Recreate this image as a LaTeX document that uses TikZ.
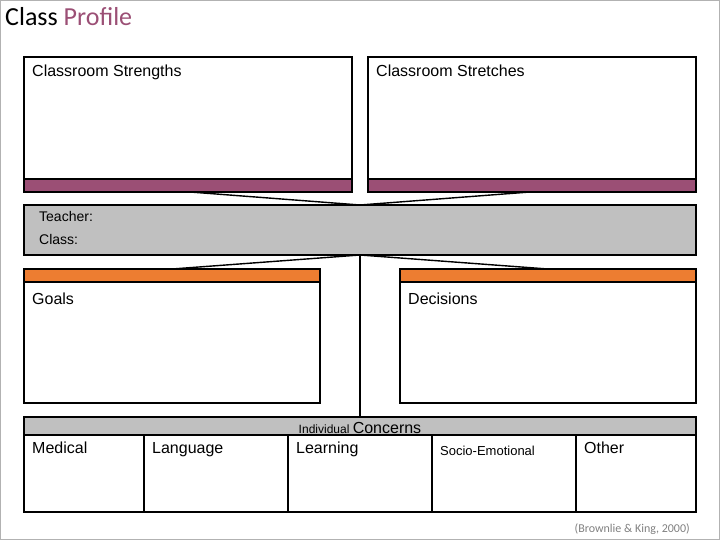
\documentclass[tikz,border=0pt]{standalone}
\usepackage{fontspec}
\setmainfont{Liberation Sans}
\newfontfamily\calfnt{Carlito}
\definecolor{plum}{HTML}{9B4F75}
\definecolor{orng}{HTML}{ED7D31}
\definecolor{gbar}{HTML}{C0C0C0}
\begin{document}
\begin{tikzpicture}[x=1pt,y=-1pt,
  box/.style={draw=black,line width=1.4pt},
  lbl/.style={anchor=north west,inner sep=0pt,font=\fontsize{16}{18}\selectfont}]
\useasboundingbox (0,0) rectangle (720,540);
\draw[gray!60] (0.5,0.5) rectangle (719.5,539.5);
\node[anchor=west,inner sep=0pt,font=\calfnt\fontsize{26}{30}\selectfont] (title) at (5,17) {Class \textcolor{plum}{Profile}};
% strengths
\draw[box] (24,57) rectangle (352,192);
\draw[box,fill=plum] (24,179) rectangle (352,192);
\node[lbl] (s) at (32,65) {Classroom Strengths};
\draw[box] (368,57) rectangle (696,192);
\draw[box,fill=plum] (368,179) rectangle (696,192);
\node[lbl] (st) at (376,65) {Classroom Stretches};
% teacher
\draw[box,fill=gbar] (24,205) rectangle (696,255);
\node[lbl,font=\fontsize{14}{16}\selectfont] (t) at (39,211) {Teacher:};
\node[lbl,font=\fontsize{14}{16}\selectfont] (c) at (39,234) {Class:};
\coordinate (top) at (360,205);
\coordinate (bot) at (360,255);
\draw[line width=1.4pt] (190,192) -- (top) -- (530,192);
\draw[line width=1.4pt] (172,269) -- (bot) -- (548,269);
\draw[line width=1.4pt] (bot) -- (360,417);
% goals
\draw[box] (24,269) rectangle (320,403);
\draw[box,fill=orng] (24,269) rectangle (320,282);
\node[lbl] (g) at (32,293) {Goals};
\draw[box] (400,269) rectangle (696,403);
\draw[box,fill=orng] (400,269) rectangle (696,282);
\node[lbl] (d) at (408,293) {Decisions};
% concerns
\draw[box,fill=gbar] (24,417) rectangle (696,435);
\node[anchor=base,inner sep=0pt] (ic) at (360,433) {\fontsize{12}{14}\selectfont Individual \fontsize{16}{18}\selectfont Concerns};
\draw[box] (24,435) rectangle (696,512);
\foreach \x in {144,288,432,576} \draw[box] (\x,435) -- (\x,512);
\node[lbl] (m) at (32,442) {Medical};
\node[lbl] (l) at (152,442) {Language};
\node[lbl] (le) at (296,442) {Learning};
\node[lbl,font=\fontsize{13}{15}\selectfont] (se) at (440,446) {Socio-Emotional};
\node[lbl] (o) at (584,442) {Other};
\node[anchor=east,inner sep=0pt,text=gray,font=\calfnt\fontsize{12}{14}\selectfont] (f) at (690,529) {(Brownlie \& King, 2000)};
\end{tikzpicture}
\end{document}
